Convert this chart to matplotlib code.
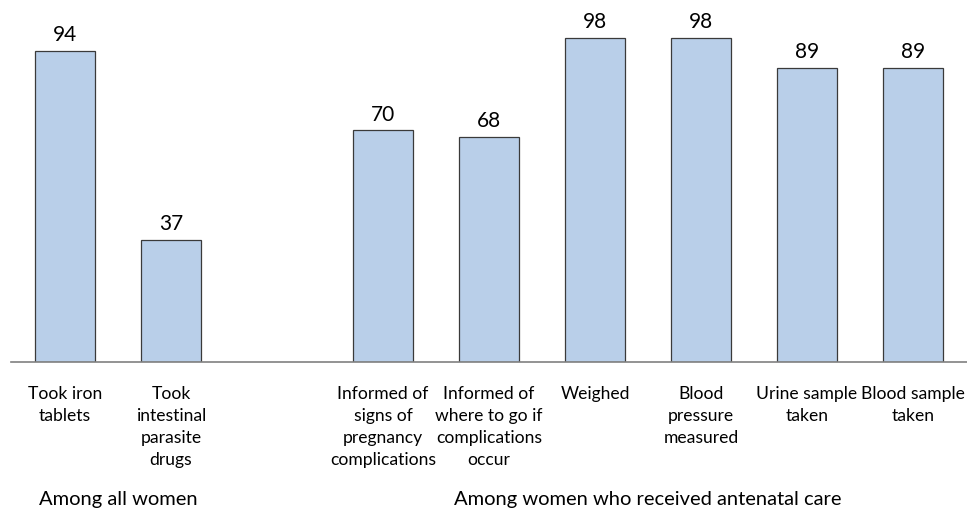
import numpy as np
from matplotlib import pyplot as plt
import matplotlib.transforms as mtransforms

plt.rcParams['font.family'] = ['Lato', 'DejaVu Sans']

# data
labels = ['Took iron\ntablets', 'Took\nintestinal\nparasite\ndrugs',
          'Informed of\nsigns of\npregnancy\ncomplications',
          'Informed of\nwhere to go if\ncomplications\noccur',
          'Weighed', 'Blood\npressure\nmeasured',
          'Urine sample\ntaken', 'Blood sample\ntaken']
values = [94, 37, 70, 68, 98, 98, 89, 89]
positions = [0, 1, 3, 4, 5, 6, 7, 8]
groups = ['Among all women', 'Among women who received antenatal care']
group_centers = [0.5, 5.5]

fig = plt.figure(figsize=(9.67, 5.15), dpi=100)
ax = fig.add_axes([11/967, (515-362)/515, 1-11/967, 362/515])

bars = ax.bar(positions, values, width=0.57, color='#B9CFE9',
              edgecolor='#3a3a3a', linewidth=0.9, zorder=2)
for x, v in zip(positions, values):
    ax.annotate(str(v), (x, v), xytext=(0, 4), textcoords='offset points',
                ha='center', va='bottom', fontsize=15)

ax.set_xlim(-0.51, 8.51)
ax.set_ylim(0, 109.4)
ax.set_yticks([])
ax.set_xticks(positions)
ax.set_xticklabels(labels, fontsize=12.6, linespacing=1.48)
ax.tick_params(axis='x', length=0, pad=17)
for s in ['top', 'right', 'left']:
    ax.spines[s].set_visible(False)
ax.spines['bottom'].set_color('#808080')
ax.spines['bottom'].set_linewidth(1.2)

trans = mtransforms.blended_transform_factory(ax.transData, fig.transFigure)
for g, c in zip(groups, group_centers):
    ax.text(c, 16/515, g, transform=trans, ha='center', va='center',
            fontsize=14.5)

plt.savefig('out.png', dpi=100)
